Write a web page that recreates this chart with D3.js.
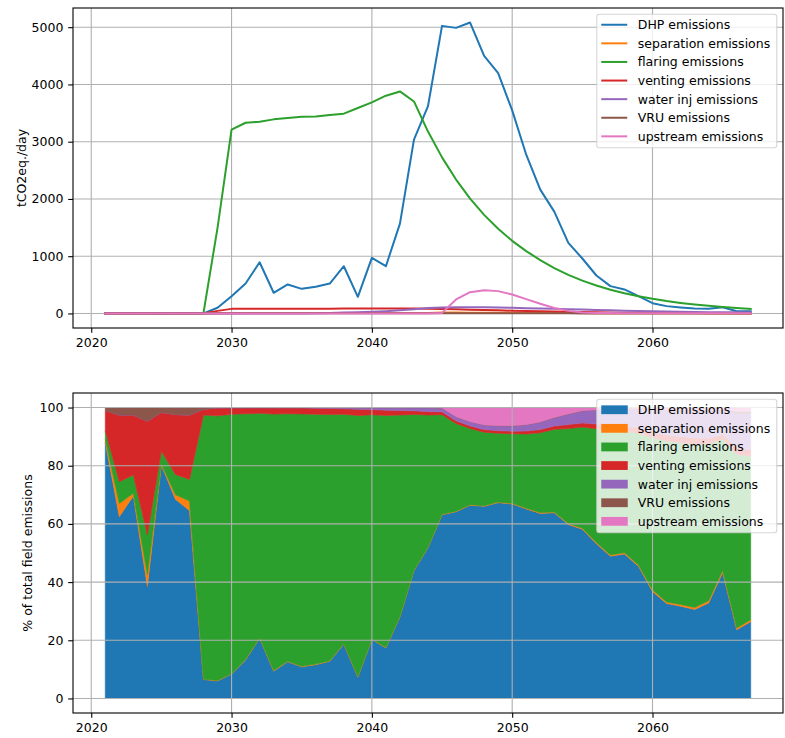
<!DOCTYPE html>
<html>
<head>
<meta charset="utf-8">
<script src="https://cdn.jsdelivr.net/npm/d3@7/dist/d3.min.js"></script>
<style>
	body { margin: 0; background: #ffffff; }
	#chart text { font-family: "DejaVu Sans", sans-serif; fill: #000000; }
</style>
</head>
<body>
<div id="chart"></div>
<script>

	// ---------------- data (tCO2eq./day) ----------------
	var years = [2021, 2022, 2023, 2024, 2025, 2026, 2027, 2028, 2029, 2030,
	             2031, 2032, 2033, 2034, 2035, 2036, 2037, 2038, 2039, 2040,
	             2041, 2042, 2043, 2044, 2045, 2046, 2047, 2048, 2049, 2050,
	             2051, 2052, 2053, 2054, 2055, 2056, 2057, 2058, 2059, 2060,
	             2061, 2062, 2063, 2064, 2065, 2066, 2067];

	var dhpEmissions = [8.8, 6.25, 6.96, 3.85, 8.02, 6.85, 6.46, 0.65, 99, 302,
	                    523, 895, 361, 506, 430, 465, 523, 825, 291, 971,
	                    825, 1570, 3035, 3620, 5023, 4988, 5081, 4500, 4198, 3547,
	                    2773, 2163, 1779, 1233, 960, 663, 477, 419, 302, 180,
	                    128, 105, 85, 81, 108, 38, 38];

	var separationEmissions = [0.1, 0.45, 0.09, 0.4, 0.04, 0.15, 0.33, 0.01, 3, 5,
	                           8, 8, 8, 8, 8, 8, 8, 8, 8, 8,
	                           8, 8, 8, 8, 15, 15, 14, 13, 12, 11,
	                           10, 9, 8, 7, 6, 5, 4, 4, 3, 3,
	                           2, 2, 2, 2, 2, 1, 1];

	var flaringEmissions = [0.3, 0.75, 0.63, 1.37, 0.44, 0.7, 0.74, 9.08, 1495, 3209,
	                        3331, 3349, 3390, 3413, 3436, 3442, 3466, 3489, 3588, 3686,
	                        3803, 3878, 3703, 3177, 2726, 2339, 2007, 1722, 1478, 1268,
	                        1088, 933, 792, 674, 573, 488, 415, 353, 301, 256,
	                        217, 184, 156, 133, 113, 96, 81];

	var ventingEmissions = [0.7, 2.29, 2.06, 3.91, 1.33, 2.06, 2.21, 0.2, 45, 80,
	                        82, 83, 83, 83, 84, 84, 84, 85, 85, 86,
	                        86, 86, 85, 82, 78, 72, 66, 60, 54, 48,
	                        42, 37, 32, 28, 24, 20, 17, 14, 12, 10,
	                        8, 7, 6, 5, 4, 4, 3];

	var waterInjEmissions = [0, 0, 0, 0, 0, 0, 0, 0, 0, 0,
	                         0, 0, 0, 0, 0, 5, 10, 15, 22, 30,
	                         40, 55, 75, 95, 105, 110, 110, 108, 104, 98,
	                         92, 86, 80, 74, 68, 60, 54, 48, 42, 37,
	                         33, 29, 26, 23, 20, 19, 18];

	var vruEmissions = [0.1, 0.26, 0.26, 0.47, 0.17, 0.24, 0.26, 0.06, 2, 3,
	                    3, 3, 3, 3, 3, 3, 3, 3, 3, 3,
	                    3, 3, 3, 3, 2, 2, 2, 2, 2, 2,
	                    2, 2, 2, 2, 1, 1, 1, 1, 1, 1,
	                    1, 1, 1, 1, 1, 1, 1];

	var upstreamEmissions = [0, 0, 0, 0, 0, 0, 0, 0, 0, 0,
	                         0, 0, 0, 0, 0, 0, 0, 0, 0, 0,
	                         0, 0, 0, 0, 10, 244, 372, 407, 390, 331,
	                         250, 170, 95, 45, 18, 10, 7, 5, 4, 3,
	                         3, 3, 2, 2, 2, 2, 2];

	var seriesNames = ["DHP emissions", "separation emissions", "flaring emissions", "venting emissions",
	                   "water inj emissions", "VRU emissions", "upstream emissions"];
	var seriesValues = [dhpEmissions, separationEmissions, flaringEmissions, ventingEmissions,
	                    waterInjEmissions, vruEmissions, upstreamEmissions];

	// tick labels
	var xTickValues = [2020, 2030, 2040, 2050, 2060];
	var yTickTop = [0, 1000, 2000, 3000, 4000, 5000];
	var yTickBottom = [0, 20, 40, 60, 80, 100];

	// matplotlib tab10 palette
	var colors = ["#1f77b4", "#ff7f0e", "#2ca02c", "#d62728", "#9467bd", "#8c564b", "#e377c2"];


	// ---------------- layout ----------------
	var W = 785, H = 738;
	var margin = {left: 73, right: 2};
	var width = W - margin.left - margin.right;
	var topPanel = {top: 8, height: 320};
	var bottomPanel = {top: 393, height: 320};
	var fontSize = 12.5;
	var tickLen = 4.8;

	var svg = d3.select("#chart").append("svg")
				.attr("width", W)
				.attr("height", H);

	// x축 (5% margin like matplotlib)
	var xPad = (d3.max(years) - d3.min(years)) * 0.05;
	var x = d3.scaleLinear()
				.domain([d3.min(years) - xPad, d3.max(years) + xPad])
				.range([0, width]);


	// common axis/grid drawing
	function drawFrame(g, y, yTicks, height) {

		var grid = g.append("g").attr("class", "grid");
		xTickValues.forEach(function(t) {
			grid.append("line")
				.attr("x1", x(t)).attr("x2", x(t))
				.attr("y1", 0).attr("y2", height)
				.attr("stroke", "#b0b0b0")
				.attr("stroke-width", 1.1);
		});
		yTicks.forEach(function(t) {
			grid.append("line")
				.attr("x1", 0).attr("x2", width)
				.attr("y1", y(t)).attr("y2", y(t))
				.attr("stroke", "#b0b0b0")
				.attr("stroke-width", 1.1);
		});

		var xAxis = g.append("g")
				.attr("transform", "translate(0," + height + ")")
				.call(d3.axisBottom(x).tickValues(xTickValues).tickFormat(d3.format("d"))
						.tickSize(tickLen).tickPadding(5.2));
		var yAxis = g.append("g")
				.call(d3.axisLeft(y).tickValues(yTicks).tickFormat(d3.format("d"))
						.tickSize(tickLen).tickPadding(4.8));

		[xAxis, yAxis].forEach(function(a) {
			a.select(".domain").remove();
			a.selectAll("line").attr("stroke", "#000").attr("stroke-width", 1.1);
			a.selectAll("text").style("font-size", fontSize + "px").attr("fill", "#000");
		});

		return grid;
	}

	function drawSpines(g, height) {
		g.append("rect")
			.attr("x", 0).attr("y", 0)
			.attr("width", width).attr("height", height)
			.attr("fill", "none")
			.attr("stroke", "#000")
			.attr("stroke-width", 1.1);
	}

	function drawLegend(g, type) {
		var lx = width - 6.25 - 180, ly = 6.25;
		var legend = g.append("g").attr("transform", "translate(" + lx + "," + ly + ")");

		legend.append("rect")
			.attr("width", 180)
			.attr("height", 133.5)
			.attr("rx", 2.5)
			.attr("fill", "#ffffff")
			.attr("fill-opacity", 0.8)
			.attr("stroke", "#cccccc")
			.attr("stroke-opacity", 0.8)
			.attr("stroke-width", 1.1);

		seriesNames.forEach(function(name, i) {
			var cy = 10.5 + i * 18.6;
			if (type == "line") {
				legend.append("line")
					.attr("x1", 4.5).attr("x2", 30.5)
					.attr("y1", cy).attr("y2", cy)
					.attr("stroke", colors[i])
					.attr("stroke-width", 2);
			} else {
				legend.append("rect")
					.attr("x", 4.5).attr("y", cy - 4.4)
					.attr("width", 26.5).attr("height", 8.8)
					.attr("fill", colors[i]);
			}
			legend.append("text")
				.attr("x", 41)
				.attr("y", cy)
				.attr("dy", "0.36em")
				.style("font-size", fontSize + "px")
				.text(name);
		});
	}


	// ---------------- ① line chart ----------------
	var maxVal = d3.max(seriesValues, function(s) { return d3.max(s); });
	var yTop = d3.scaleLinear()
				.domain([-0.05 * maxVal, 1.05 * maxVal])
				.range([topPanel.height, 0]);

	var g1 = svg.append("g")
				.attr("transform", "translate(" + margin.left + "," + topPanel.top + ")");

	drawFrame(g1, yTop, yTickTop, topPanel.height);

	var drawLine = d3.line()
				.x(function(d) { return x(d.year); })
				.y(function(d) { return yTop(d.value); });

	seriesValues.forEach(function(values, i) {
		g1.append("path")
			.datum(years.map(function(yr, k) { return {year: yr, value: values[k]}; }))
			.attr("d", drawLine)
			.attr("fill", "none")
			.attr("stroke", colors[i])
			.attr("stroke-width", 2)
			.attr("stroke-linejoin", "round")
			.attr("stroke-linecap", "square");
	});

	drawSpines(g1, topPanel.height);
	drawLegend(g1, "line");

	g1.append("text")
		.attr("transform", "translate(" + (26 - margin.left) + "," + (topPanel.height / 2) + ") rotate(-90)")
		.attr("text-anchor", "middle")
		.style("font-size", fontSize + "px")
		.text("tCO2eq./day");


	// ---------------- ② stacked percent chart ----------------
	var keys = seriesNames;
	var pctRows = years.map(function(yr, k) {
		var total = d3.sum(seriesValues, function(s) { return s[k]; });
		var row = {year: yr};
		keys.forEach(function(key, i) { row[key] = seriesValues[i][k] / total * 100; });
		return row;
	});

	var stacked = d3.stack().keys(keys)(pctRows);

	var yBot = d3.scaleLinear()
				.domain([-5, 105])
				.range([bottomPanel.height, 0]);

	var g2 = svg.append("g")
				.attr("transform", "translate(" + margin.left + "," + bottomPanel.top + ")");

	var areaGroup = g2.append("g").attr("class", "stack");

	var drawArea = d3.area()
				.x(function(d) { return x(d.data.year); })
				.y0(function(d) { return yBot(d[0]); })
				.y1(function(d) { return yBot(d[1]); });

	stacked.forEach(function(layer, i) {
		areaGroup.append("path")
			.datum(layer)
			.attr("d", drawArea)
			.attr("fill", colors[i])
			.attr("stroke", colors[i])
			.attr("stroke-width", 0.6);
	});

	drawFrame(g2, yBot, yTickBottom, bottomPanel.height);
	drawSpines(g2, bottomPanel.height);
	drawLegend(g2, "patch");

	g2.append("text")
		.attr("transform", "translate(" + (32 - margin.left) + "," + (bottomPanel.height / 2) + ") rotate(-90)")
		.attr("text-anchor", "middle")
		.style("font-size", fontSize + "px")
		.text("% of total field emissions");

</script>
</body>
</html>
